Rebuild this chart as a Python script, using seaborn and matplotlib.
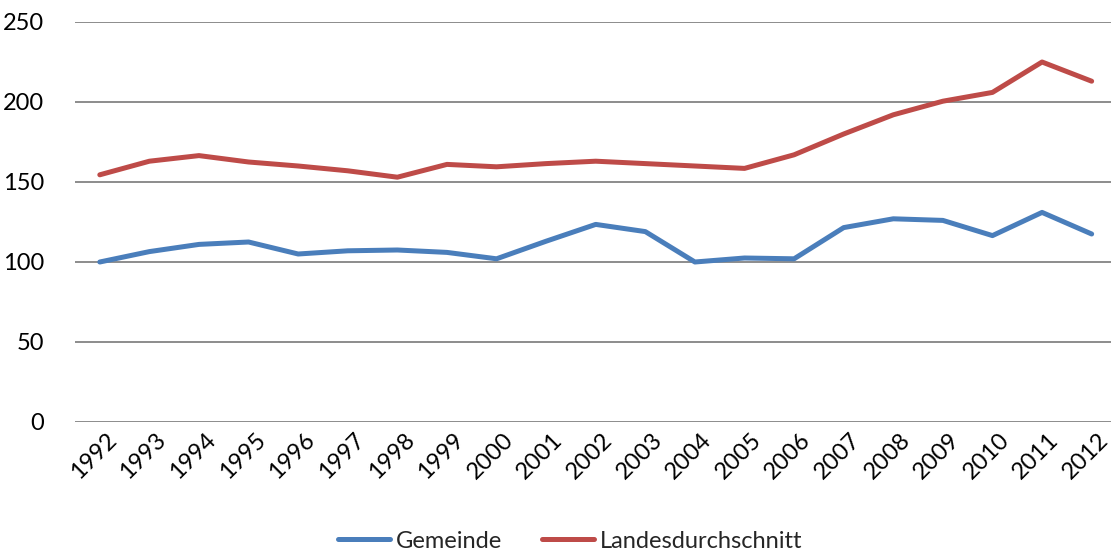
import pandas as pd
import matplotlib
matplotlib.use("Agg")
import matplotlib.pyplot as plt
import seaborn as sns

# values
years = [str(y) for y in range(1992, 2013)]
gemeinde = [100, 106.5, 111, 112.5, 105, 107, 107.5, 106, 102, 113, 123.5,
            119, 100, 102.5, 102, 121.5, 127, 126, 116.5, 131, 117.5]
landesdurchschnitt = [154.5, 163, 166.5, 162.5, 160, 157, 153, 161, 159.5, 161.5, 163,
                      161.5, 160, 158.5, 167, 180, 192, 200.5, 206, 225, 213]
series_names = ["Gemeinde", "Landesdurchschnitt"]
colors = ["#4A7EBB", "#BE4B48"]

df = pd.DataFrame({"Jahr": years, series_names[0]: gemeinde, series_names[1]: landesdurchschnitt})
long_df = df.melt(id_vars="Jahr", var_name="Reihe", value_name="Wert")
long_df["pos"] = long_df["Jahr"].map({y: i for i, y in enumerate(years)})

sns.set_style("white")
plt.rcParams["font.family"] = ["Lato", "DejaVu Sans"]

fig = plt.figure(figsize=(11.11, 5.53), dpi=100)
ax = fig.add_axes([75 / 1111, 1 - 422 / 553, 1036 / 1111, 400 / 553])

sns.lineplot(data=long_df, x="pos", y="Wert", hue="Reihe", palette=colors,
             linewidth=3.6, ax=ax, legend=False, solid_capstyle="round")

ax.set_ylim(0, 250)
ax.set_xlim(-0.5, 20.39)
ax.set_yticks([0, 50, 100, 150, 200, 250])
ax.set_xticks(range(len(years)))
ax.set_xticklabels(years, rotation=45, ha="right", rotation_mode="anchor")
ax.yaxis.grid(True, color="#8c8c8c", linewidth=1.4)
ax.set_axisbelow(True)
ax.tick_params(axis="both", length=0, labelsize=17, colors="black")
ax.tick_params(axis="x", pad=5)
ax.tick_params(axis="y", pad=22)
for lbl in ax.get_xticklabels():
    lbl.set_transform(lbl.get_transform() + matplotlib.transforms.ScaledTranslation(0.06, 0, fig.dpi_scale_trans))
for s in ax.spines.values():
    s.set_visible(False)
ax.set_xlabel("")
ax.set_ylabel("")

handles = [plt.Line2D([], [], color=c, linewidth=3.6) for c in colors]
fig.legend(handles, series_names, loc="center", bbox_to_anchor=(570 / 1111, 1 - 541 / 553),
           ncol=2, frameon=False, fontsize=17, handlelength=2.2, handletextpad=0.25,
           columnspacing=1.7)

fig.savefig("out.png", dpi=100)
